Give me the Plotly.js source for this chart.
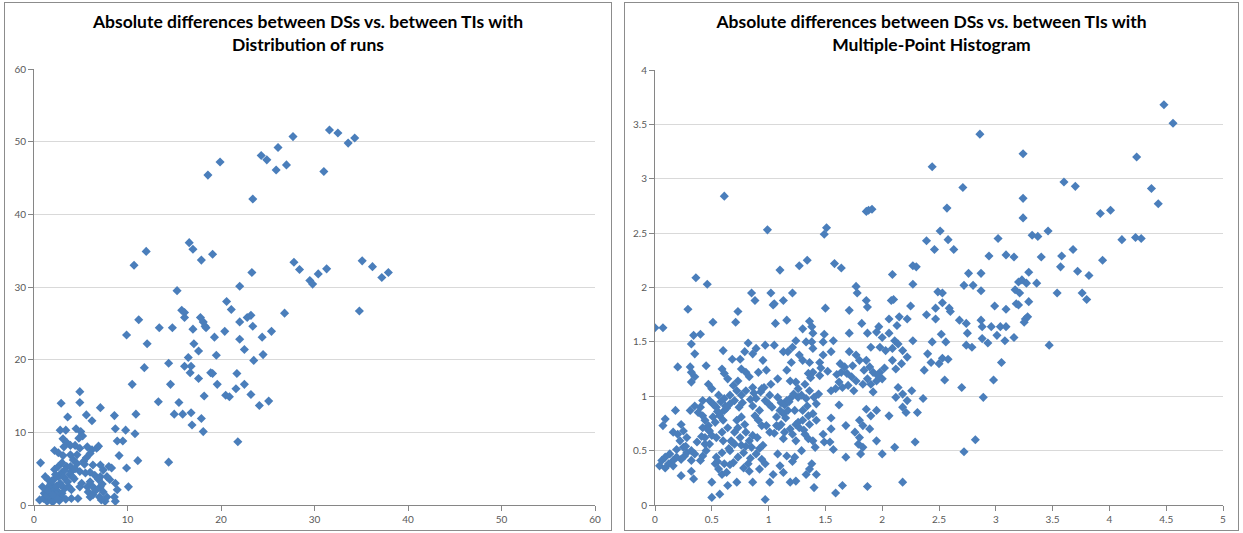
<!DOCTYPE html>
<html>
<head>
<meta charset="utf-8">
<script src="https://cdn.plot.ly/plotly-3.0.1.min.js"></script>
<style>
  html, body { margin: 0; padding: 0; background: #ffffff; width: 1243px; height: 533px; overflow: hidden; }
  .panel { position: absolute; border: 1px solid #8c8c8c; background: #ffffff; }
  #left { left: 4px; top: 2px; width: 606px; height: 527px; }
  #right { left: 624px; top: 2px; width: 613px; height: 527px; }
</style>
</head>
<body>
<div id="left" class="panel"></div>
<div id="right" class="panel"></div>
<script>
// ---- Left chart: Distribution of runs ----
const leftTitle = "Absolute differences between DSs vs. between TIs with<br>Distribution of runs";
const leftXTicks = [0, 10, 20, 30, 40, 50, 60];
const leftYTicks = [0, 10, 20, 30, 40, 50, 60];
const runsX = [
  18.6, 19.9, 23.4, 24.3, 24.9, 25.9, 26.1, 27.0, 27.7, 31.0, 31.6, 32.5, 33.6, 34.3,
  27.8, 28.4, 29.5, 29.8, 30.4, 31.3, 35.1, 36.2, 37.2, 37.9, 34.8,
  10.7, 12.0, 11.2, 9.9, 15.3, 16.6, 17.0, 17.9, 19.1, 15.8, 16.1, 16.1, 13.4, 14.8, 17.0, 17.8, 18.1, 18.3, 18.4,
  19.3, 20.4, 20.6, 21.1, 22.0, 22.0, 22.8, 23.2, 23.4, 23.3, 24.4, 25.4, 26.8, 22.0,
  12.1, 17.1, 17.6, 16.5, 19.5, 22.5, 24.5, 23.5, 14.4, 16.1, 16.8, 16.7, 11.8, 18.9, 19.1, 17.6, 21.7, 19.6, 22.5,
  10.5, 14.6, 21.6, 20.5, 20.9, 23.2, 18.2, 25.1, 24.1, 13.3, 15.5, 10.9, 15.0, 15.9, 16.8, 17.9, 21.8, 18.1, 16.9,
  14.4, 10.8, 11.1, 9.8, 10.1, 9.9, 8.7, 8.6, 8.9, 9.5, 9.1, 7.1, 6.2, 5.6, 4.9, 4.9, 2.9, 3.6, 2.8, 3.4, 4.5, 5.0, 5.2, 4.8,
  0.7, 3.1, 3.5, 3.9, 3.2, 2.2, 2.6, 3.1, 3.9, 4.4, 4.9, 5.7, 6.2, 6.7, 6.9, 6.3, 7.1, 7.4, 8.0, 8.3,
  4.9, 5.5, 6.0, 6.5, 7.1, 4.2, 4.6, 3.5, 3.0, 2.6, 2.1, 1.2, 1.5, 0.9, 1.4, 1.9, 2.2, 2.6, 3.0, 3.3, 3.7, 4.0,
  0.6, 1.0, 1.4, 1.7, 2.1, 2.4, 3.0, 4.0, 4.7, 4.9, 5.7, 6.0, 6.3, 6.9, 7.1, 7.4, 7.8, 7.6, 8.7, 8.9, 8.6, 8.7,
  8.1, 7.8, 7.2, 7.0, 5.8, 6.0, 6.3, 5.6, 6.0, 2.2, 2.6, 3.0, 3.9, 4.0,
  1.8, 2.4, 2.8, 1.1, 1.6, 2.0, 2.7, 3.4, 1.3, 2.9, 3.6, 4.3, 4.6, 5.3,
  1.5, 2.0, 2.5, 3.2, 3.8, 4.4, 5.1, 1.9, 2.3, 3.3, 4.1, 5.4, 6.6, 7.3
];
const runsY = [
  45.4, 47.2, 42.1, 48.1, 47.5, 46.1, 49.2, 46.8, 50.7, 45.9, 51.6, 51.2, 49.8, 50.5,
  33.4, 32.4, 30.9, 30.4, 31.8, 32.5, 33.6, 32.8, 31.3, 32.0, 26.7,
  33.0, 34.9, 25.5, 23.4, 29.5, 36.1, 35.2, 33.7, 34.5, 26.8, 26.5, 25.8, 24.4, 24.4, 24.2, 25.8, 25.2, 24.6, 24.4,
  23.1, 23.9, 28.0, 26.9, 30.1, 25.2, 25.8, 26.1, 24.6, 32.0, 23.1, 23.9, 26.4, 22.8,
  22.2, 22.2, 21.2, 20.3, 20.6, 21.4, 20.7, 19.9, 19.5, 19.1, 19.1, 18.2, 18.9, 18.2, 18.1, 17.4, 18.1, 16.6, 16.6,
  16.6, 16.6, 16.0, 15.1, 14.9, 15.2, 15.0, 14.3, 13.7, 14.2, 14.1, 12.5, 12.5, 12.5, 12.7, 11.9, 8.7, 10.1, 11.0,
  5.9, 9.8, 6.1, 10.3, 2.5, 5.1, 10.5, 12.3, 8.8, 8.8, 6.8, 13.4, 11.6, 12.4, 15.6, 14.1, 14.0, 12.1, 10.3, 10.3, 10.5, 10.1, 9.5, 9.2,
  5.8, 9.1, 8.6, 8.2, 8.0, 7.5, 7.2, 6.8, 6.9, 8.2, 7.8, 8.0, 7.6, 7.8, 8.1, 5.5, 5.5, 4.8, 5.3, 5.1,
  4.6, 4.4, 4.5, 4.1, 3.9, 6.2, 6.9, 5.3, 4.5, 3.9, 3.5, 3.9, 3.5, 2.5, 2.3, 2.3, 2.1, 1.8, 1.6, 2.3, 2.5, 2.1,
  0.7, 0.9, 0.5, 0.8, 1.1, 1.4, 1.1, 0.9, 0.9, 2.5, 2.5, 3.2, 2.5, 3.5, 2.5, 1.8, 1.1, 0.5, 3.0, 2.1, 1.1, 0.5,
  3.5, 3.9, 0.7, 1.1, 1.8, 1.1, 1.4, 6.5, 7.1, 4.9, 5.3, 5.8, 5.3, 4.6,
  2.9, 2.6, 3.0, 1.6, 1.2, 0.4, 0.6, 0.8, 1.3, 2.7, 3.2, 3.6, 5.7, 6.0,
  1.9, 1.4, 0.9, 3.8, 4.2, 5.0, 3.0, 3.3, 4.2, 4.8, 3.9, 5.6, 2.0, 2.9
];

// ---- Right chart: Multiple-Point Histogram ----
const rightTitle = "Absolute differences between DSs vs. between TIs with<br>Multiple-Point Histogram";
const rightXTicks = [0, 0.5, 1, 1.5, 2, 2.5, 3, 3.5, 4, 4.5, 5];
const rightYTicks = [0, 0.5, 1, 1.5, 2, 2.5, 3, 3.5, 4];
const mphX = [
  4.48, 4.56, 2.86, 3.24, 4.24, 2.44, 4.37, 2.71, 3.60, 3.70, 3.24, 4.43, 2.57, 3.24, 3.92, 4.01, 2.51, 3.32, 3.37, 3.46,
  4.11, 4.23, 4.28, 2.58, 2.63, 2.46, 3.02, 2.94, 3.09, 3.16, 3.40, 3.58, 3.68, 3.57, 3.72, 3.82, 3.94, 2.76, 2.87, 2.72,
  2.80, 2.87, 3.29, 3.20, 3.23, 3.27, 3.36, 3.17, 3.21, 3.54, 3.76, 3.80, 2.49, 2.53, 2.53, 2.47, 2.59, 2.60, 2.99, 3.09,
  3.18, 3.20, 3.29, 2.47, 2.68, 2.74, 2.87, 2.88, 2.96, 3.04, 3.09, 3.26, 3.25, 3.28, 2.75, 2.88, 3.01, 3.16,
  3.47, 3.05, 2.98, 2.89, 2.70, 2.55, 2.82, 2.72, 2.50, 2.53, 2.58, 2.43, 2.74, 2.79, 2.93, 3.08, 2.44, 2.56, 2.52,
  2.29, 2.36, 2.31, 2.26, 2.27, 2.37, 2.40,
  0.61, 0.36, 0.46, 0.85, 0.99, 1.02, 1.04, 1.10, 1.21, 1.27, 1.34, 1.49, 1.51, 1.58, 1.64, 1.77, 1.78, 1.86, 1.88, 1.91,
  2.09, 2.10, 2.27, 2.30, 2.27, 2.39, 2.39, 2.25, 1.38,
  0.29, 0.73, 0.71, 0.51, 0.00, 0.07, 1.06, 1.16, 1.05, 1.13, 0.88, 1.50, 1.71, 1.87, 1.86, 2.08, 1.82, 1.97, 2.06, 2.15, 2.22, 2.13,
  1.71, 1.49, 1.39, 1.30, 1.36, 1.33, 1.24, 1.21, 1.17, 1.13, 0.34, 0.40, 0.32, 0.35, 0.82, 0.89, 0.97, 1.05, 0.86, 0.95,
  0.79, 0.60, 0.68, 0.75, 1.38, 1.48, 1.57, 1.55, 1.48, 1.45, 1.39, 1.36, 1.30, 1.27, 1.20, 1.16, 1.19,
  1.87, 1.95, 2.00, 2.06, 2.11, 1.90, 1.98, 2.03, 2.09, 2.14, 2.18, 2.22, 2.17, 2.12, 2.09, 1.71, 1.77, 1.74, 1.80, 1.67,
  1.64, 1.86, 1.89, 1.92, 1.98, 2.00, 1.95, 1.90, 1.87, 1.83, 1.77, 1.73, 1.70, 1.65, 1.62, 1.59, 1.55,
  0.20, 0.31, 0.32, 0.35, 0.45, 0.32, 0.59, 0.61, 0.64, 0.69, 0.73, 0.76, 0.80, 0.83, 0.91, 0.98, 1.08, 1.02, 0.94, 0.86,
  0.80, 0.76, 0.72, 0.66, 0.61, 0.56, 0.50, 0.47, 0.48, 0.42, 0.40, 0.35, 0.31, 0.38, 0.42,
  1.24, 1.32, 1.35, 1.39, 1.45, 1.36, 1.40, 1.33, 1.26, 1.20, 1.16, 1.11, 1.08, 1.01, 0.97, 0.89, 0.86, 0.92, 0.88, 0.91,
  0.94, 0.98, 1.01, 1.07, 1.11, 1.07, 1.13, 1.17, 1.23, 1.30, 1.35, 1.39, 1.42, 1.30, 1.24, 1.19, 1.14, 1.13, 1.21, 1.27,
  1.32, 1.35, 1.39, 1.36, 1.42,
  1.55, 1.68, 1.80, 1.83, 1.76, 1.86, 1.90, 1.95, 2.06, 2.18, 2.21, 2.22, 2.12, 2.14, 2.18,
  1.80, 1.89, 1.95, 1.79, 1.83, 1.81, 2.00, 2.11, 2.18, 1.87, 1.65, 1.59, 1.68, 1.49, 1.54, 1.48, 1.55,
  0.09, 0.07, 0.18, 0.16, 0.20, 0.23, 0.25, 0.28, 0.22, 0.19, 0.25, 0.28, 0.32, 0.35, 0.32, 0.26, 0.23, 0.19, 0.13, 0.09,
  0.06, 0.04, 0.09, 0.12, 0.16, 0.16, 0.23, 0.34, 0.32, 0.40, 0.42, 0.45, 0.44, 0.48, 0.50, 0.48, 0.47, 0.44, 0.42, 0.51,
  0.57, 0.61, 0.54, 0.60, 0.64, 0.59, 0.54, 0.60, 0.67, 0.70, 0.73, 0.72, 0.76, 0.79, 0.80, 0.75, 0.70, 0.66, 0.59, 0.54,
  0.53, 0.56, 0.59, 0.63, 0.61, 0.69, 0.73, 0.78, 0.80, 0.83, 0.86, 0.85, 0.89, 0.94, 0.97, 0.92, 0.83, 0.78, 0.82, 0.72,
  0.50, 0.57, 0.50, 0.64, 0.86, 0.97, 1.01, 1.04, 1.08, 1.16, 1.23, 1.29, 1.24, 1.13, 1.19, 1.24, 1.33, 1.36, 1.42, 1.40,
  1.38, 1.57,
  0.52, 0.55, 0.58, 0.63, 0.66, 0.70, 0.74, 0.77, 0.84, 0.87, 0.93, 0.96, 1.00, 1.03, 1.10, 1.14, 1.18, 1.22, 1.26, 1.29,
  0.44, 0.47, 0.53, 0.57, 0.62, 0.65, 0.68, 0.90, 0.95, 1.05, 1.09, 1.15, 1.26, 1.31, 1.34, 1.37, 1.44, 1.46, 1.52, 1.60,
  1.63, 1.69, 1.75, 1.84, 1.92, 1.96, 2.02, 0.27, 0.37, 0.41, 0.55, 0.51, 0.66, 0.76, 0.84, 0.92, 1.10, 1.21, 1.41, 1.62
];
const mphY = [
  3.68, 3.51, 3.41, 3.23, 3.20, 3.11, 2.91, 2.92, 2.97, 2.93, 2.82, 2.77, 2.73, 2.64, 2.68, 2.71, 2.52, 2.48, 2.47, 2.52,
  2.44, 2.46, 2.45, 2.44, 2.35, 2.35, 2.45, 2.29, 2.30, 2.28, 2.28, 2.29, 2.35, 2.19, 2.15, 2.11, 2.25, 2.13, 2.13, 2.02,
  2.02, 1.97, 2.14, 2.05, 2.07, 2.04, 2.04, 1.98, 1.95, 1.95, 1.95, 1.89, 1.96, 1.95, 1.86, 1.81, 1.81, 1.78, 1.83, 1.80,
  1.85, 1.84, 1.87, 1.71, 1.70, 1.67, 1.70, 1.64, 1.64, 1.64, 1.64, 1.71, 1.68, 1.73, 1.58, 1.53, 1.56, 1.54,
  1.47, 1.31, 1.15, 0.99, 1.08, 1.15, 0.60, 0.49, 1.30, 1.35, 1.34, 1.31, 1.47, 1.45, 1.49, 1.51, 1.50, 1.50, 1.57,
  0.58, 0.98, 0.85, 1.05, 1.51, 1.24, 1.39,
  2.84, 2.09, 2.03, 1.95, 2.53, 1.95, 1.84, 2.16, 1.95, 2.20, 2.25, 2.49, 2.55, 2.22, 2.18, 2.01, 1.95, 2.70, 2.71, 2.72,
  2.12, 1.89, 2.20, 2.19, 2.03, 2.43, 1.75, 1.83, 1.64,
  1.80, 1.78, 1.68, 1.68, 1.63, 1.63, 1.67, 1.70, 1.85, 1.88, 1.88, 1.81, 1.79, 1.82, 1.88, 1.88, 1.67, 1.64, 1.71, 1.73, 1.71, 1.65,
  1.58, 1.57, 1.58, 1.62, 1.69, 1.50, 1.51, 1.45, 1.41, 1.41, 1.56, 1.57, 1.48, 1.39, 1.49, 1.44, 1.47, 1.47, 1.39, 1.33,
  1.41, 1.42, 1.34, 1.34, 1.50, 1.50, 1.51, 1.41, 1.38, 1.31, 1.44, 1.31, 1.33, 1.38, 1.31, 1.24, 1.14,
  1.58, 1.59, 1.54, 1.58, 1.51, 1.45, 1.45, 1.42, 1.44, 1.48, 1.42, 1.36, 1.30, 1.25, 1.33, 1.41, 1.38, 1.28, 1.33, 1.27,
  1.22, 1.33, 1.27, 1.22, 1.22, 1.16, 1.14, 1.11, 1.16, 1.11, 1.14, 1.18, 1.10, 1.08, 1.13, 1.07, 1.05,
  1.27, 1.27, 1.22, 1.18, 1.28, 1.13, 1.25, 1.21, 1.16, 1.10, 1.14, 1.25, 1.22, 1.18, 1.22, 1.24, 1.16, 1.11, 1.07, 1.08,
  1.05, 1.01, 1.05, 1.01, 0.98, 1.01, 1.07, 1.11, 0.96, 0.96, 0.90, 0.91, 0.87, 0.85, 0.82,
  1.13, 1.11, 1.21, 1.22, 1.19, 1.05, 0.99, 0.98, 0.99, 0.99, 0.96, 0.94, 0.99, 1.01, 0.96, 0.98, 0.91, 0.87, 0.82, 0.78,
  0.73, 0.73, 0.67, 0.73, 0.74, 0.81, 0.84, 0.87, 0.87, 0.87, 0.82, 0.84, 0.93, 0.78, 0.74, 0.70, 0.67, 0.61, 0.65, 0.71,
  0.65, 0.61, 0.59, 0.74, 0.78,
  0.80, 0.73, 0.78, 0.73, 0.67, 0.88, 0.82, 0.87, 0.82, 0.90, 0.85, 0.96, 0.99, 1.08, 1.02,
  0.62, 0.70, 0.59, 0.56, 0.53, 0.47, 0.47, 0.53, 0.21, 0.17, 0.18, 0.11, 0.44, 0.58, 0.58, 0.65, 0.70,
  0.79, 0.73, 0.87, 0.67, 0.65, 0.74, 0.68, 0.62, 0.59, 0.51, 0.53, 0.48, 0.50, 0.47, 0.41, 0.45, 0.42, 0.44, 0.47, 0.44,
  0.41, 0.36, 0.34, 0.38, 0.36, 0.41, 0.27, 0.24, 0.31, 0.41, 0.45, 0.50, 0.56, 0.56, 0.64, 0.68, 0.73, 0.78, 0.71, 0.81,
  0.82, 0.87, 0.90, 0.78, 0.71, 0.67, 0.62, 0.59, 0.59, 0.67, 0.71, 0.78, 0.81, 0.74, 0.67, 0.62, 0.56, 0.50, 0.48, 0.44,
  0.38, 0.33, 0.28, 0.30, 0.38, 0.39, 0.44, 0.48, 0.54, 0.59, 0.64, 0.53, 0.47, 0.42, 0.38, 0.33, 0.31, 0.34, 0.38, 0.21,
  0.21, 0.10, 0.07, 0.18, 0.21, 0.05, 0.21, 0.28, 0.47, 0.45, 0.44, 0.50, 0.59, 0.30, 0.21, 0.22, 0.28, 0.33, 0.28, 0.16,
  0.38, 0.51,
  0.92, 0.86, 0.95, 0.89, 0.93, 0.96, 0.90, 0.94, 0.97, 1.03, 1.04, 1.08, 0.93, 0.90, 0.87, 0.92, 0.95, 1.02, 1.07, 1.01,
  0.62, 0.69, 0.76, 0.84, 0.91, 0.52, 0.58, 0.62, 0.55, 0.66, 0.72, 0.80, 0.76, 0.69, 0.91, 1.17, 1.02, 1.26, 1.23, 1.20,
  1.30, 1.21, 1.05, 1.24, 1.04, 1.19, 1.26, 0.54, 0.58, 0.63, 0.40, 0.93, 0.37, 0.55, 0.43, 0.52, 0.36, 0.40, 0.53, 0.92
];

const markerStyle = { symbol: 'diamond', size: 7, color: '#4A7EBB', line: { width: 0 } };
const tickFont = { family: 'Lato, "Open Sans", sans-serif', size: 10, color: '#595959' };
const titleFont = { family: 'Lato, "Open Sans", sans-serif', size: 17.5, color: '#000000', weight: 'bold' };

function axisX(range, ticks) {
  return {
    range: range, tickvals: ticks, ticktext: ticks.map(String), showgrid: false, zeroline: false,
    showline: true, linecolor: '#868686', linewidth: 1, ticks: 'outside', ticklen: 5, tickcolor: '#868686',
    tickfont: tickFont, fixedrange: true
  };
}
function axisY(range, ticks) {
  return {
    range: range, tickvals: ticks, ticktext: ticks.map(String), showgrid: true, gridcolor: '#D9D9D9', gridwidth: 1,
    zeroline: false, showline: true, linecolor: '#868686', linewidth: 1, ticks: 'outside', ticklen: 5,
    tickcolor: '#868686', tickfont: tickFont, fixedrange: true
  };
}

const cfg = { staticPlot: true, displayModeBar: false };

Plotly.newPlot('left', [{
  x: runsX, y: runsY, type: 'scatter', mode: 'markers', marker: markerStyle, hoverinfo: 'none'
}], {
  width: 606, height: 527,
  margin: { l: 29, r: 16, t: 66, b: 25 },
  paper_bgcolor: '#ffffff', plot_bgcolor: '#ffffff', showlegend: false,
  title: { text: leftTitle, font: titleFont, x: 0.5, xanchor: 'center', xref: 'container', y: 0.952, yanchor: 'middle', yref: 'container' },
  xaxis: axisX([0, 60], leftXTicks),
  yaxis: axisY([0, 60], leftYTicks)
}, cfg);

Plotly.newPlot('right', [{
  x: mphX, y: mphY, type: 'scatter', mode: 'markers', marker: markerStyle, hoverinfo: 'none'
}], {
  width: 613, height: 527,
  margin: { l: 30, r: 15, t: 67, b: 25 },
  paper_bgcolor: '#ffffff', plot_bgcolor: '#ffffff', showlegend: false,
  title: { text: rightTitle, font: titleFont, x: 0.5, xanchor: 'center', xref: 'container', y: 0.952, yanchor: 'middle', yref: 'container' },
  xaxis: axisX([0, 5], rightXTicks),
  yaxis: axisY([0, 4], rightYTicks)
}, cfg);
</script>
</body>
</html>
